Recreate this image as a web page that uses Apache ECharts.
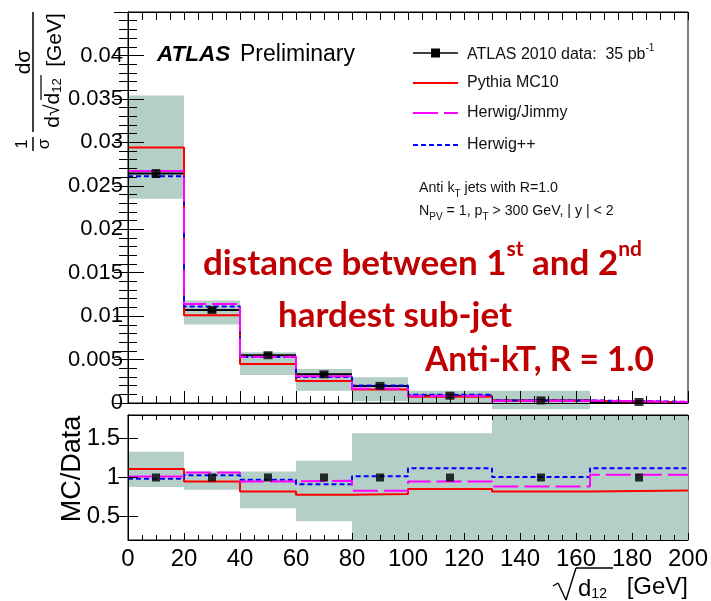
<!DOCTYPE html>
<html>
<head>
<meta charset="utf-8">
<script src="https://cdn.jsdelivr.net/npm/echarts@6/dist/echarts.min.js"></script>
<style>
  html, body { margin: 0; padding: 0; background: #fff; }
  #chart { width: 711px; height: 601px; }
</style>
</head>
<body>
<div id="chart"></div>
<script>
// Bin edges of sqrt(d12) in GeV
const binEdges = [0, 20, 40, 60, 80, 100, 130, 165, 200];

// Normalised cross section 1/sigma dsigma/dsqrt(d12) [1/GeV]
const dataValues     = [0.0264, 0.0107, 0.0055, 0.0033, 0.00197, 0.00084, 0.0003, 0.00012];
const dataErrors     = [0.0004, 0.0002, 0.0002, 0.00015, 0.0001, 0.0001, 0.0001, 0.0001];
const pythiaValues   = [0.0294, 0.0101, 0.00448, 0.00252, 0.00155, 0.00071, 0.00025, 0.0001];
const herwigValues   = [0.0267, 0.0114, 0.00532, 0.00308, 0.00164, 0.0008, 0.00027, 0.000125];
const herwigppValues = [0.0261, 0.0111, 0.0053, 0.003, 0.002, 0.00094, 0.0003, 0.000135];
// Systematic uncertainty band (lower / upper edge)
const bandLow  = [0.0235, 0.00903, 0.00323, 0.0014, 0.0002, 0.0001, -0.00073, 0.00005];
const bandHigh = [0.0354, 0.01179, 0.00584, 0.0039, 0.00296, 0.00142, 0.00142, 0.0002];

// MC / Data ratios
const dataRatio      = [1, 1, 1, 1, 1, 1, 1, 1];
const pythiaRatio    = [1.11, 0.95, 0.82, 0.78, 0.79, 0.852, 0.82, 0.835];
const herwigRatio    = [1.013, 1.065, 0.95, 0.958, 0.83, 0.95, 0.885, 1.035];
const herwigppRatio  = [0.985, 1.03, 0.97, 0.915, 1.015, 1.12, 1.005, 1.12];
const ratioBandLow   = [0.877, 0.843, 0.605, 0.44, 0.2, 0.2, 0.2, 0.2];
const ratioBandHigh  = [1.33, 1.077, 1.077, 1.213, 1.566, 1.566, 1.8, 1.8];

// Axis ticks
const mainYTicks  = { min: 0, max: 0.045, step: 0.005 };
const ratioYTicks = [0.5, 1, 1.5];
const xTicks      = { min: 0, max: 200, step: 20 };

const seriesNames = ['ATLAS 2010 data:  35 pb', 'Pythia MC10', 'Herwig/Jimmy', 'Herwig++'];
const lumiExponent = '-1';

const FONT = "'Liberation Sans', Arial, Helvetica, sans-serif";
const RED_FONT = "Lato, 'Open Sans', sans-serif";
const BAND = '#B3CFC8';
const C_PYTHIA = '#FF0000', C_HERWIG = '#FF00FF', C_HERWIGPP = '#0000FF';
const DASH_HERWIG = [25, 6], DASH_HERWIGPP = [5, 3];

const binCentres = binEdges.slice(0, -1).map((e, i) => (e + binEdges[i + 1]) / 2);
const stepData = vals => binEdges.map((e, i) => [e, vals[Math.min(i, vals.length - 1)]]);
const bandData = (lo, hi) => lo.map((l, i) => [binEdges[i], binEdges[i + 1], l, hi[i]]);

function renderBand(params, api) {
  const a = api.coord([api.value(0), api.value(3)]);
  const b = api.coord([api.value(1), api.value(2)]);
  return { type: 'rect', shape: { x: a[0], y: a[1], width: b[0] - a[0], height: b[1] - a[1] },
           style: { fill: BAND } };
}

function renderDataBar(params, api) {
  const lo = api.value(0), hi = api.value(1), v = api.value(2), e = api.value(3);
  const mid = (lo + hi) / 2;
  const L = api.coord([lo, v]), R = api.coord([hi, v]);
  const T = api.coord([mid, v + e]), B = api.coord([mid, v - e]);
  const thin = { stroke: '#000', lineWidth: 1.5 };
  return { type: 'group', children: [
    { type: 'line', shape: { x1: L[0], y1: L[1], x2: R[0], y2: R[1] }, style: { stroke: '#000', lineWidth: 2 } },
    { type: 'line', shape: { x1: T[0], y1: T[1], x2: B[0], y2: B[1] }, style: thin },
    { type: 'line', shape: { x1: T[0] - 4, y1: T[1], x2: T[0] + 4, y2: T[1] }, style: thin },
    { type: 'line', shape: { x1: B[0] - 4, y1: B[1], x2: B[0] + 4, y2: B[1] }, style: thin }
  ] };
}

function stepLine(name, vals, color, dash, xi, yi, z) {
  return { name, type: 'line', xAxisIndex: xi, yAxisIndex: yi, data: stepData(vals), step: 'end',
           symbol: 'none', showSymbol: false, clip: true, z,
           lineStyle: { color, width: 2, type: dash || 'solid' }, silent: true };
}

const tickStyle = { color: '#000', width: 1 };
function xAxis(grid, pos, showLabel, major, minor) {
  return { type: 'value', gridIndex: grid, position: pos, min: xTicks.min, max: xTicks.max, interval: xTicks.step, z: 5,
    axisLine: { show: true, onZero: false, lineStyle: tickStyle },
    axisTick: { show: true, inside: true, length: major, lineStyle: tickStyle },
    minorTick: { show: true, splitNumber: 4, length: minor, lineStyle: tickStyle },
    axisLabel: { show: showLabel, color: '#000', fontFamily: FONT, fontSize: 24, margin: 7 },
    splitLine: { show: false } };
}

const option = {
  animation: false,
  backgroundColor: '#fff',
  grid: [
    { left: 128, top: 12, width: 560, height: 391, show: true, borderColor: '#000', borderWidth: 1, backgroundColor: 'transparent' },
    { left: 128, top: 415, width: 560, height: 125, show: true, borderColor: '#000', borderWidth: 1, backgroundColor: 'transparent' }
  ],
  xAxis: [
    xAxis(0, 'bottom', false, 12, 7),
    xAxis(0, 'top', false, 8, 8),
    xAxis(1, 'bottom', true, 7, 5),
    xAxis(1, 'top', false, 5, 5)
  ],
  yAxis: [
    { type: 'value', gridIndex: 0, position: 'left', min: mainYTicks.min, max: mainYTicks.max, interval: mainYTicks.step, z: 5,
      axisLine: { show: true, lineStyle: tickStyle },
      axisTick: { show: true, inside: true, length: 16, lineStyle: tickStyle },
      minorTick: { show: true, splitNumber: 5, length: 9, lineStyle: tickStyle },
      axisLabel: { color: '#000', fontFamily: FONT, fontSize: 22, margin: 5, showMaxLabel: false },
      splitLine: { show: false } },
    { type: 'value', gridIndex: 0, position: 'right', min: mainYTicks.min, max: mainYTicks.max, interval: mainYTicks.step, z: 5,
      axisLine: { show: true, lineStyle: tickStyle },
      axisTick: { show: true, inside: true, length: 14, lineStyle: tickStyle },
      minorTick: { show: true, splitNumber: 5, length: 9, lineStyle: tickStyle },
      axisLabel: { show: false }, splitLine: { show: false } },
    { type: 'value', gridIndex: 1, position: 'left', min: 0.2, max: 1.8, z: 5,
      axisLine: { show: true, lineStyle: tickStyle },
      axisTick: { show: true, inside: true, length: 10, lineStyle: tickStyle, customValues: ratioYTicks },
      axisLabel: { color: '#000', fontFamily: FONT, fontSize: 24, margin: 8, customValues: ratioYTicks },
      splitLine: { show: false } },
    { type: 'value', gridIndex: 1, position: 'right', min: 0.2, max: 1.8, z: 5,
      axisLine: { show: true, lineStyle: tickStyle },
      axisTick: { show: true, inside: true, length: 10, lineStyle: tickStyle, customValues: ratioYTicks },
      axisLabel: { show: false }, splitLine: { show: false } }
  ],
  series: [
    // main panel
    { type: 'custom', xAxisIndex: 0, yAxisIndex: 0, data: bandData(bandLow, bandHigh), renderItem: renderBand, clip: false, z: 1, silent: true },
    { type: 'custom', xAxisIndex: 0, yAxisIndex: 0, data: dataValues.map((v, i) => [binEdges[i], binEdges[i + 1], v, dataErrors[i]]),
      renderItem: renderDataBar, z: 2, silent: true },
    stepLine(seriesNames[1], pythiaValues, C_PYTHIA, null, 0, 0, 3),
    stepLine(seriesNames[3], herwigppValues, C_HERWIGPP, DASH_HERWIGPP, 0, 0, 3),
    stepLine(seriesNames[2], herwigValues, C_HERWIG, DASH_HERWIG, 0, 0, 3),
    { name: seriesNames[0], type: 'scatter', xAxisIndex: 0, yAxisIndex: 0, data: dataValues.map((v, i) => [binCentres[i], v]),
      symbol: 'rect', symbolSize: [9, 8], itemStyle: { color: '#000' }, z: 4, silent: true },
    // ratio panel
    { type: 'custom', xAxisIndex: 2, yAxisIndex: 2, data: bandData(ratioBandLow, ratioBandHigh), renderItem: renderBand, clip: true, z: 1, silent: true },
    stepLine(seriesNames[1], pythiaRatio, C_PYTHIA, null, 2, 2, 3),
    stepLine(seriesNames[3], herwigppRatio, C_HERWIGPP, DASH_HERWIGPP, 2, 2, 3),
    stepLine(seriesNames[2], herwigRatio, C_HERWIG, DASH_HERWIG, 2, 2, 3),
    { type: 'scatter', xAxisIndex: 2, yAxisIndex: 2, data: dataRatio.map((v, i) => [binCentres[i], v]),
      symbol: 'rect', symbolSize: 8, itemStyle: { color: '#000' }, z: 4, silent: true }
  ],
  graphic: []
};

// ---- legend ----
const legendRows = [53, 83, 113, 145];
const legendStyles = [
  { color: '#000', dash: null, width: 1.5 },
  { color: C_PYTHIA, dash: null, width: 2 },
  { color: C_HERWIG, dash: DASH_HERWIG, width: 2 },
  { color: C_HERWIGPP, dash: DASH_HERWIGPP, width: 2 }
];
const legendText = { fontFamily: FONT, fontSize: 16, fill: '#111' };
legendRows.forEach((y, i) => {
  const s = legendStyles[i];
  option.graphic.push({ type: 'line', silent: true, shape: { x1: 413, y1: y, x2: 458, y2: y },
    style: { stroke: s.color, lineWidth: s.width, lineDash: s.dash || null } });
  if (i === 0) {
    option.graphic.push({ type: 'rect', silent: true, shape: { x: 431, y: y - 4.5, width: 9, height: 9 }, style: { fill: '#000' } });
    option.graphic.push({ type: 'text', x: 467, y, silent: true, style: {
      text: '{a|' + seriesNames[0] + '}{s|' + lumiExponent + '}', verticalAlign: 'middle', align: 'left',
      rich: { a: Object.assign({ verticalAlign: 'bottom', lineHeight: 20 }, legendText),
              s: { fontFamily: FONT, fontSize: 10, fill: '#111', verticalAlign: 'top', lineHeight: 10 } } } });
  } else {
    option.graphic.push({ type: 'text', x: 467, y, silent: true,
      style: Object.assign({ text: seriesNames[i], verticalAlign: 'middle', align: 'left' }, legendText) });
  }
});

// ---- selection text ----
const smallRich = {
  m: { fontFamily: FONT, fontSize: 14.2, fill: '#111', lineHeight: 18, verticalAlign: 'top' },
  b: { fontFamily: FONT, fontSize: 10, fill: '#111', lineHeight: 18, verticalAlign: 'bottom' }
};
option.graphic.push({ type: 'text', x: 419, y: 190, silent: true, style: {
  text: '{m|Anti k}{b|T}{m| jets with R=1.0}', verticalAlign: 'middle', rich: smallRich } });
option.graphic.push({ type: 'text', x: 419, y: 213, silent: true, style: {
  text: '{m|N}{b|PV}{m| = 1, p}{b|T}{m| > 300 GeV, | y | < 2}', verticalAlign: 'middle', rich: smallRich } });

// ---- ATLAS label ----
option.graphic.push({ type: 'text', x: 157, y: 55, silent: true, style: {
  text: 'ATLAS', fontFamily: FONT, fontSize: 22.5, fontWeight: 'bold', fontStyle: 'italic', fill: '#000', verticalAlign: 'middle' } });
option.graphic.push({ type: 'text', x: 240, y: 55, silent: true, style: {
  text: 'Preliminary', fontFamily: FONT, fontSize: 23, fill: '#000', verticalAlign: 'middle' } });

// ---- red annotation ----
const redStyle = size => ({
  t: { fontFamily: RED_FONT, fontWeight: 'bold', fontSize: size, fill: '#C00000', lineHeight: 42, verticalAlign: 'bottom' },
  u: { fontFamily: RED_FONT, fontWeight: 'bold', fontSize: 21, fill: '#C00000', lineHeight: 21, verticalAlign: 'top' }
});
option.graphic.push({ type: 'text', x: 203, y: 260, silent: true, style: {
  text: '{t|distance between 1}{u|st}{t| and 2}{u|nd}', verticalAlign: 'middle', rich: redStyle(35) } });
option.graphic.push({ type: 'text', x: 278, y: 312, silent: true, style: {
  text: '{t|hardest sub-jet}', verticalAlign: 'middle', rich: redStyle(35) } });
option.graphic.push({ type: 'text', x: 425, y: 356, silent: true, style: {
  text: '{t|Anti-kT, R = 1.0}', verticalAlign: 'middle', rich: redStyle(33.5) } });

// ---- y-axis title of main panel (reads bottom to top) ----
const vt = (txt, x, y, size, extra) => ({ type: 'text', x, y, rotation: Math.PI / 2, silent: true,
  style: Object.assign({ text: txt, fontFamily: FONT, fontSize: size, fill: '#000', align: 'center', verticalAlign: 'middle' }, extra || {}) });
option.graphic.push(vt('1', 22, 144, 17));
option.graphic.push({ type: 'line', silent: true, shape: { x1: 33, y1: 137, x2: 33, y2: 151 }, style: { stroke: '#000', lineWidth: 1.5 } });
option.graphic.push(vt('σ', 44, 144, 17));
option.graphic.push(vt('dσ', 24, 62, 21));
option.graphic.push({ type: 'line', silent: true, shape: { x1: 33, y1: 12, x2: 33, y2: 132 }, style: { stroke: '#000', lineWidth: 1.5 } });
option.graphic.push(vt('', 52, 103, 21, {
  text: '{a|d√d}{b|12}', rich: { a: { fontFamily: FONT, fontSize: 21, fill: '#000', lineHeight: 24, verticalAlign: 'bottom' },
                                b: { fontFamily: FONT, fontSize: 13, fill: '#000', lineHeight: 24, verticalAlign: 'bottom' } } }));
option.graphic.push({ type: 'line', silent: true, shape: { x1: 41, y1: 75, x2: 41, y2: 100 }, style: { stroke: '#000', lineWidth: 1.2 } });
option.graphic.push(vt('[GeV]', 55, 40, 21));

// ---- y-axis title of ratio panel ----
option.graphic.push(vt('MC/Data', 73, 469, 27));

// ---- x-axis title: radical sign drawn as strokes over d12 ----
const radical = [[553, 586], [558, 583], [566, 600], [576, 568], [613, 568]];
radical.slice(1).forEach((p, i) => {
  const q = radical[i];
  option.graphic.push({ type: 'line', silent: true, z: 10, shape: { x1: q[0], y1: q[1], x2: p[0], y2: p[1] },
    style: { stroke: '#000', lineWidth: 1.4 } });
});
option.graphic.push({ type: 'text', x: 578, y: 587, silent: true, style: {
  text: '{a|d}{b|12}', align: 'left', verticalAlign: 'middle',
  rich: { a: { fontFamily: FONT, fontSize: 24, fill: '#000', lineHeight: 28, verticalAlign: 'bottom' },
          b: { fontFamily: FONT, fontSize: 14, fill: '#000', lineHeight: 24, verticalAlign: 'bottom' } } } });
option.graphic.push({ type: 'text', x: 688, y: 587, silent: true, style: {
  text: '[GeV]', fontFamily: FONT, fontSize: 24, fill: '#000', align: 'right', verticalAlign: 'middle' } });

const chart = echarts.init(document.getElementById('chart'));
chart.setOption(option);
</script>
</body>
</html>
